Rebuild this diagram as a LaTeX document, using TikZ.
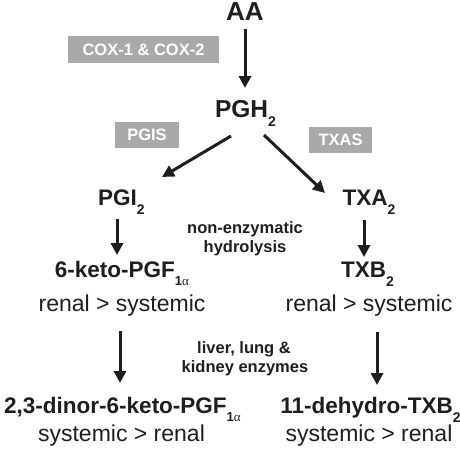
\documentclass[tikz,border=0pt]{standalone}
\usepackage{fontspec}
\setmainfont{Liberation Sans}
\newfontfamily\greekserif{Liberation Serif}
\usetikzlibrary{arrows.meta}
\definecolor{txt}{HTML}{1E1E1E}
\definecolor{boxgray}{HTML}{A9A9A9}
\newcommand\mysub[2][9pt]{\raisebox{-#1}{\fontsize{14}{14}\selectfont #2}}
\newcommand\alphasub{\raisebox{-8pt}{\fontsize{13}{13}\selectfont 1{\greekserif\mdseries α}}}
\begin{document}
\begin{tikzpicture}[x=1pt,y=-1pt,
  every node/.style={inner sep=0pt,outer sep=0pt,text=txt},
  big/.style={anchor=base,font=\fontsize{26}{26}\selectfont\bfseries},
  mol/.style={anchor=base,font=\fontsize{22.5}{22.5}\selectfont\bfseries},
  site/.style={anchor=base,font=\fontsize{23}{23}\selectfont},
  note/.style={anchor=base,font=\fontsize{16.5}{16.5}\selectfont\bfseries},
  enzyme/.style={fill=boxgray,text=white,font=\fontsize{16.5}{16.5}\selectfont\bfseries,minimum height=26pt},
  arr/.style={draw=txt,line width=3pt,-{Triangle[length=12pt,width=12pt]}}
]
\useasboundingbox (0,0) rectangle (460,448);
% nodes
\node[big] (AA) at (245,20) {AA};
\node[big,font=\fontsize{24.5}{24.5}\selectfont\bfseries] (PGH) at (245.5,117) {PGH\mysub[9pt]{2}};
\node[enzyme,minimum width=151pt,minimum height=27pt] (cox) at (143.5,49.5) {COX-1 \& COX-2};
\node[enzyme,minimum width=64pt] (pgis) at (147,135) {PGIS};
\node[enzyme,minimum width=63pt] (txas) at (340.5,140) {TXAS};
\node[mol] (PGI) at (121.5,205) {PGI\mysub{2}};
\node[mol] (TXA) at (369,205) {TXA\mysub{2}};
\node[note] (ne1) at (245,233) {non-enzymatic};
\node[note] (ne2) at (245,252) {hydrolysis};
\node[mol] (K6) at (122,277) {6-keto-PGF\alphasub};
\node[mol] (TXB) at (367.5,277) {TXB\mysub{2}};
\node[site] (renL) at (122,311) {renal > systemic};
\node[site] (renR) at (369,311) {renal > systemic};
\node[note] (le1) at (244,353) {liver, lung \&};
\node[note] (le2) at (245,372) {kidney enzymes};
\node[mol] (DIN) at (122.5,413) {2,3-dinor-6-keto-PGF\alphasub};
\node[mol] (DEH) at (370.5,413) {11-dehydro-TXB\mysub{2}};
\node[site] (sysL) at (121.5,441) {systemic > renal};
\node[site] (sysR) at (369,441) {systemic > renal};
% connectors
\draw[arr] ([yshift=-9pt]AA.base) -- ([xshift=-0.5pt,yshift=29pt]PGH.base);
\draw[arr] ([xshift=-14.5pt,yshift=-19pt]PGH.base) -- ([xshift=40.5pt,yshift=28pt]PGI.base);
\draw[arr] ([xshift=18.5pt,yshift=-18pt]PGH.base) -- ([xshift=-44pt,yshift=12pt]TXA.base);
\draw[arr] ([xshift=-4.5pt,yshift=-14pt]PGI.base) -- ([xshift=-5pt,yshift=22pt]K6.base);
\draw[arr] ([xshift=-5pt,yshift=-15pt]TXA.base) -- ([xshift=-3.5pt,yshift=20pt]TXB.base);
\draw[arr] ([xshift=-2pt,yshift=-20pt]renL.base) -- ([xshift=-2.5pt,yshift=30pt]DIN.base);
\draw[arr] ([xshift=8pt,yshift=-21pt]renR.base) -- ([xshift=6.5pt,yshift=28pt]DEH.base);
\end{tikzpicture}
\end{document}
